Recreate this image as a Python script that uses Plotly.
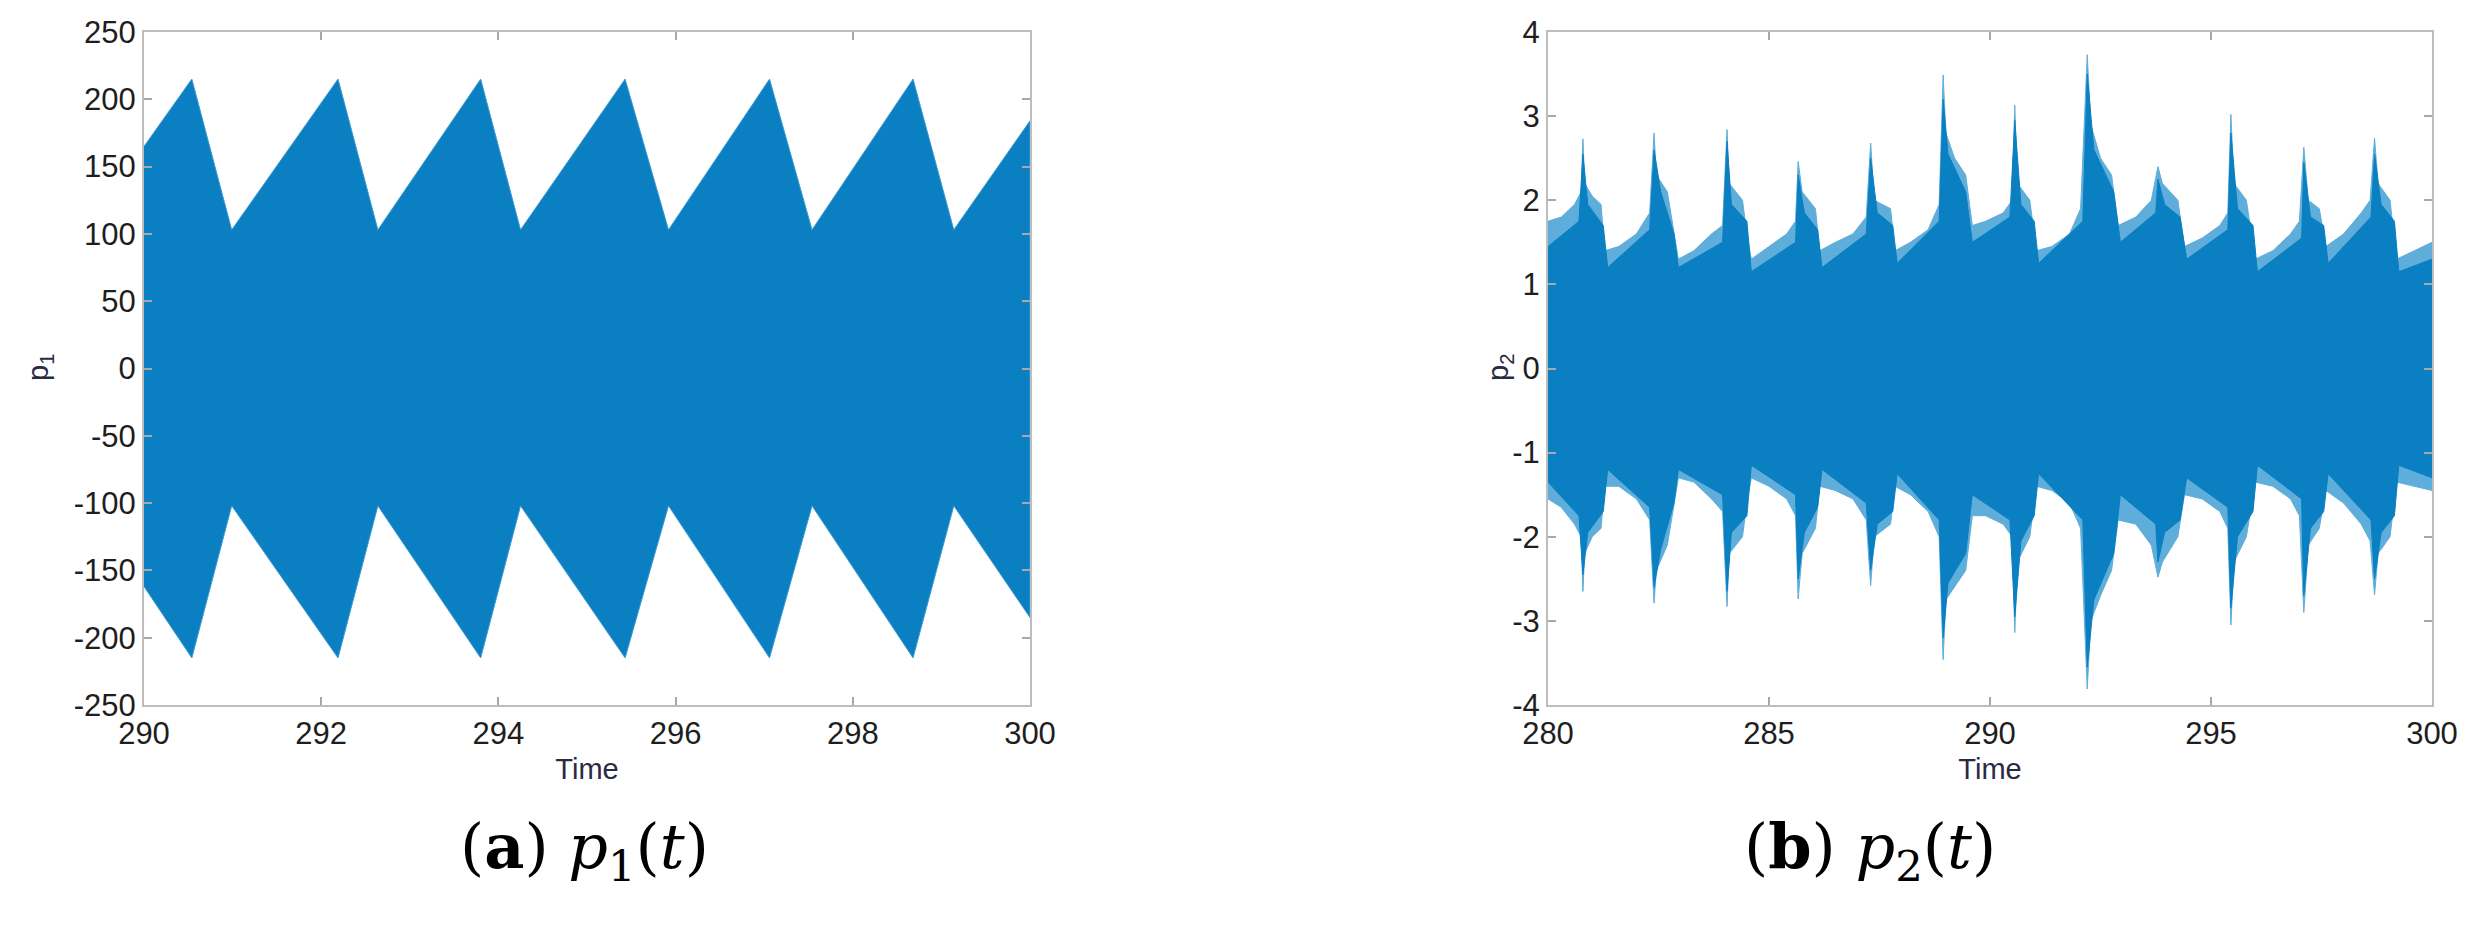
import plotly.graph_objects as go

# ---------------- p1(t) envelope ----------------
t1 = [290.0, 290.54, 290.99, 292.19, 292.64, 293.80, 294.25, 295.43, 295.92,
      297.06, 297.54, 298.68, 299.14, 300.0]
p1_upper = [165, 215, 103, 215, 103, 215, 103, 215, 103, 215, 103, 215, 103, 184]
p1_lower = [-162, -215, -102, -215, -102, -215, -102, -215, -102, -215, -102, -215, -102, -185]

# ---------------- p2(t) outer envelope (light) ----------------
t2 = [280.00, 280.30, 280.60, 280.75, 280.79, 280.83, 281.00, 281.20, 281.28, 281.60,
      282.00, 282.30, 282.40, 282.45, 282.70, 282.85, 282.95, 283.30, 283.70, 283.95,
      284.05, 284.10, 284.40, 284.50, 284.60, 285.00, 285.40, 285.60, 285.66, 285.75,
      286.05, 286.15, 286.50, 286.90, 287.20, 287.30, 287.38, 287.75, 287.85, 288.20,
      288.60, 288.85, 288.94, 289.00, 289.20, 289.45, 289.60, 289.90, 290.30, 290.50,
      290.56, 290.62, 290.90, 291.05, 291.40, 291.80, 292.05, 292.20, 292.28, 292.50,
      292.75, 292.90, 293.30, 293.65, 293.80, 293.90, 294.25, 294.40, 294.80, 295.20,
      295.38, 295.45, 295.52, 295.80, 296.00, 296.40, 296.80, 297.00, 297.10, 297.20,
      297.45, 297.60, 298.00, 298.40, 298.60, 298.70, 298.78, 299.05, 299.20, 299.60,
      300.00]
p2_upper_outer = [1.75, 1.80, 1.95, 2.10, 2.73, 2.20, 2.05, 1.95, 1.40, 1.45,
                  1.60, 1.85, 2.80, 2.30, 2.10, 1.60, 1.30, 1.40, 1.60, 1.70,
                  2.84, 2.20, 2.00, 1.60, 1.30, 1.45, 1.60, 1.75, 2.46, 2.10,
                  1.90, 1.40, 1.50, 1.60, 1.80, 2.68, 2.00, 1.90, 1.40, 1.50,
                  1.65, 1.95, 3.49, 2.80, 2.50, 2.30, 1.70, 1.75, 1.85, 2.00,
                  3.13, 2.20, 2.00, 1.40, 1.45, 1.60, 1.90, 3.73, 2.90, 2.50,
                  2.30, 1.70, 1.80, 2.00, 2.40, 2.20, 2.00, 1.45, 1.55, 1.70,
                  1.85, 3.02, 2.20, 2.00, 1.30, 1.40, 1.60, 1.75, 2.63, 2.00,
                  1.90, 1.45, 1.60, 1.85, 2.00, 2.74, 2.20, 2.00, 1.30, 1.40,
                  1.50]
p2_lower_outer = [-1.55, -1.65, -1.85, -2.00, -2.65, -2.20, -2.00, -1.90, -1.40, -1.40,
                  -1.55, -1.80, -2.79, -2.40, -2.10, -1.60, -1.30, -1.35, -1.55, -1.70,
                  -2.83, -2.20, -2.00, -1.60, -1.30, -1.40, -1.55, -1.75, -2.74, -2.20,
                  -1.90, -1.40, -1.45, -1.55, -1.80, -2.58, -2.00, -1.85, -1.40, -1.50,
                  -1.70, -2.00, -3.46, -2.75, -2.60, -2.40, -1.75, -1.75, -1.85, -2.00,
                  -3.14, -2.30, -2.00, -1.40, -1.45, -1.60, -1.90, -3.81, -3.00, -2.70,
                  -2.40, -1.80, -1.85, -2.10, -2.48, -2.30, -2.00, -1.50, -1.55, -1.70,
                  -1.90, -3.05, -2.30, -2.00, -1.35, -1.40, -1.55, -1.75, -2.90, -2.10,
                  -1.90, -1.45, -1.60, -1.85, -2.05, -2.69, -2.20, -2.00, -1.35, -1.40,
                  -1.45]

# ---------------- p2(t) inner envelope (dark core) ----------------
t2i = [280.00, 280.70, 280.79, 280.90, 281.25, 281.35, 282.30, 282.40, 282.55, 282.85,
       282.95, 283.95, 284.05, 284.15, 284.50, 284.60, 285.60, 285.66, 285.80, 286.10,
       286.20, 287.20, 287.30, 287.45, 287.80, 287.90, 288.85, 288.94, 289.05, 289.45,
       289.60, 290.45, 290.56, 290.70, 291.00, 291.10, 292.10, 292.20, 292.35, 292.80,
       292.95, 293.75, 293.80, 293.95, 294.30, 294.45, 295.38, 295.45, 295.60, 295.95,
       296.05, 297.05, 297.10, 297.25, 297.55, 297.65, 298.62, 298.70, 298.85, 299.15,
       299.25, 300.00]
p2_upper_inner = [1.45, 1.75, 2.55, 1.95, 1.70, 1.20, 1.65, 2.60, 2.10, 1.60,
                  1.20, 1.50, 2.70, 1.95, 1.75, 1.15, 1.50, 2.30, 1.85, 1.65,
                  1.20, 1.60, 2.50, 1.85, 1.70, 1.25, 1.75, 3.20, 2.55, 2.10,
                  1.50, 1.80, 2.95, 1.95, 1.75, 1.25, 1.75, 3.50, 2.60, 2.10,
                  1.50, 1.85, 2.25, 1.95, 1.80, 1.30, 1.65, 2.80, 1.90, 1.70,
                  1.15, 1.55, 2.45, 1.80, 1.70, 1.25, 1.80, 2.55, 1.95, 1.75,
                  1.15, 1.30]
p2_lower_inner = [-1.35, -1.75, -2.45, -1.95, -1.70, -1.20, -1.65, -2.60, -2.15, -1.60,
                  -1.20, -1.50, -2.65, -1.95, -1.75, -1.15, -1.50, -2.50, -1.95, -1.65,
                  -1.20, -1.60, -2.40, -1.85, -1.70, -1.25, -1.80, -3.20, -2.55, -2.20,
                  -1.50, -1.80, -2.95, -2.05, -1.75, -1.25, -1.80, -3.55, -2.75, -2.20,
                  -1.50, -1.85, -2.30, -1.95, -1.80, -1.30, -1.65, -2.85, -2.00, -1.70,
                  -1.15, -1.55, -2.70, -1.90, -1.70, -1.25, -1.80, -2.50, -1.95, -1.75,
                  -1.15, -1.30]

# ---------------- axis ticks & text ----------------
x1_ticks = [290, 292, 294, 296, 298, 300]
y1_ticks = [-250, -200, -150, -100, -50, 0, 50, 100, 150, 200, 250]
y1_ticktext = ["-250", "-200", "-150", "-100", "-50", "0", "50", "100", "150", "200", "250"]
x2_ticks = [280, 285, 290, 295, 300]
y2_ticks = [-4, -3, -2, -1, 0, 1, 2, 3, 4]
y2_ticktext = ["-4", "-3", "-2", "-1", "0", "1", "2", "3", "4"]
x_title = "Time"
y_titles = ["p<sub>1</sub>", "p<sub>2</sub>"]
captions = ["(<b>a</b>) <i>p</i><sub>1</sub>(<i>t</i>)", "(<b>b</b>) <i>p</i><sub>2</sub>(<i>t</i>)"]

DARK = "#0a7fc1"
LIGHT = "#5eaddb"
FONT = "Liberation Sans"
W, H = 2470, 925


def band(t, lo, hi, color, xa, ya, line_color=None):
    return go.Scatter(
        x=list(t) + list(t)[::-1],
        y=list(hi) + list(lo)[::-1],
        fill="toself", fillcolor=color, mode="lines",
        line=dict(color=line_color or color, width=1),
        xaxis=xa, yaxis=ya, hoverinfo="skip", showlegend=False,
    )


fig = go.Figure()
fig.add_trace(band(t1, p1_lower, p1_upper, DARK, "x", "y", line_color="#3d9ad2"))
fig.add_trace(band(t2, p2_lower_outer, p2_upper_outer, LIGHT, "x2", "y2"))
fig.add_trace(band(t2i, p2_lower_inner, p2_upper_inner, DARK, "x2", "y2"))

axis_common = dict(
    showgrid=False, zeroline=False, showline=True, linecolor="#bdbdbd", linewidth=2,
    mirror="ticks", ticks="inside", ticklen=8, tickwidth=2, tickcolor="#a8a8a8",
    tickfont=dict(family=FONT, size=31, color="#1e1e1e"), automargin=False,
)
title_font = dict(family=FONT, size=29, color="#2a2a44")
ydom = [1 - 705 / H, 1 - 32 / H]
fig.update_layout(
    width=W, height=H,
    margin=dict(l=0, r=0, t=0, b=0),
    paper_bgcolor="white", plot_bgcolor="white",
    xaxis=dict(domain=[144 / W, 1030 / W], range=[290, 300], tickvals=x1_ticks,
               title=dict(text=x_title, font=title_font, standoff=8),
               anchor="y", **axis_common),
    yaxis=dict(domain=ydom, range=[-250, 250], tickvals=y1_ticks, ticktext=y1_ticktext,
               anchor="x", **axis_common),
    xaxis2=dict(domain=[1548 / W, 2432 / W], range=[280, 300], tickvals=x2_ticks,
                title=dict(text=x_title, font=title_font, standoff=8),
                anchor="y2", **axis_common),
    yaxis2=dict(domain=ydom, range=[-4, 4], tickvals=y2_ticks, ticktext=y2_ticktext,
                anchor="x2", **axis_common),
)
ymid = 1 - 368 / H
for cx, txt in zip([40 / W, 1500 / W], y_titles):
    fig.add_annotation(x=cx, y=ymid, xref="paper", yref="paper", text=txt, textangle=-90,
                       showarrow=False, xanchor="center", yanchor="middle", font=title_font)
for cx, txt in zip([584 / W, 1870 / W], captions):
    fig.add_annotation(x=cx, y=1 - 850 / H, xref="paper", yref="paper", text=txt,
                       showarrow=False, xanchor="center", yanchor="middle",
                       font=dict(family="DejaVu Serif", size=62, color="black"))

fig.write_html("out.html", config={"displayModeBar": False},
               post_script="document.body.style.margin='0';")
